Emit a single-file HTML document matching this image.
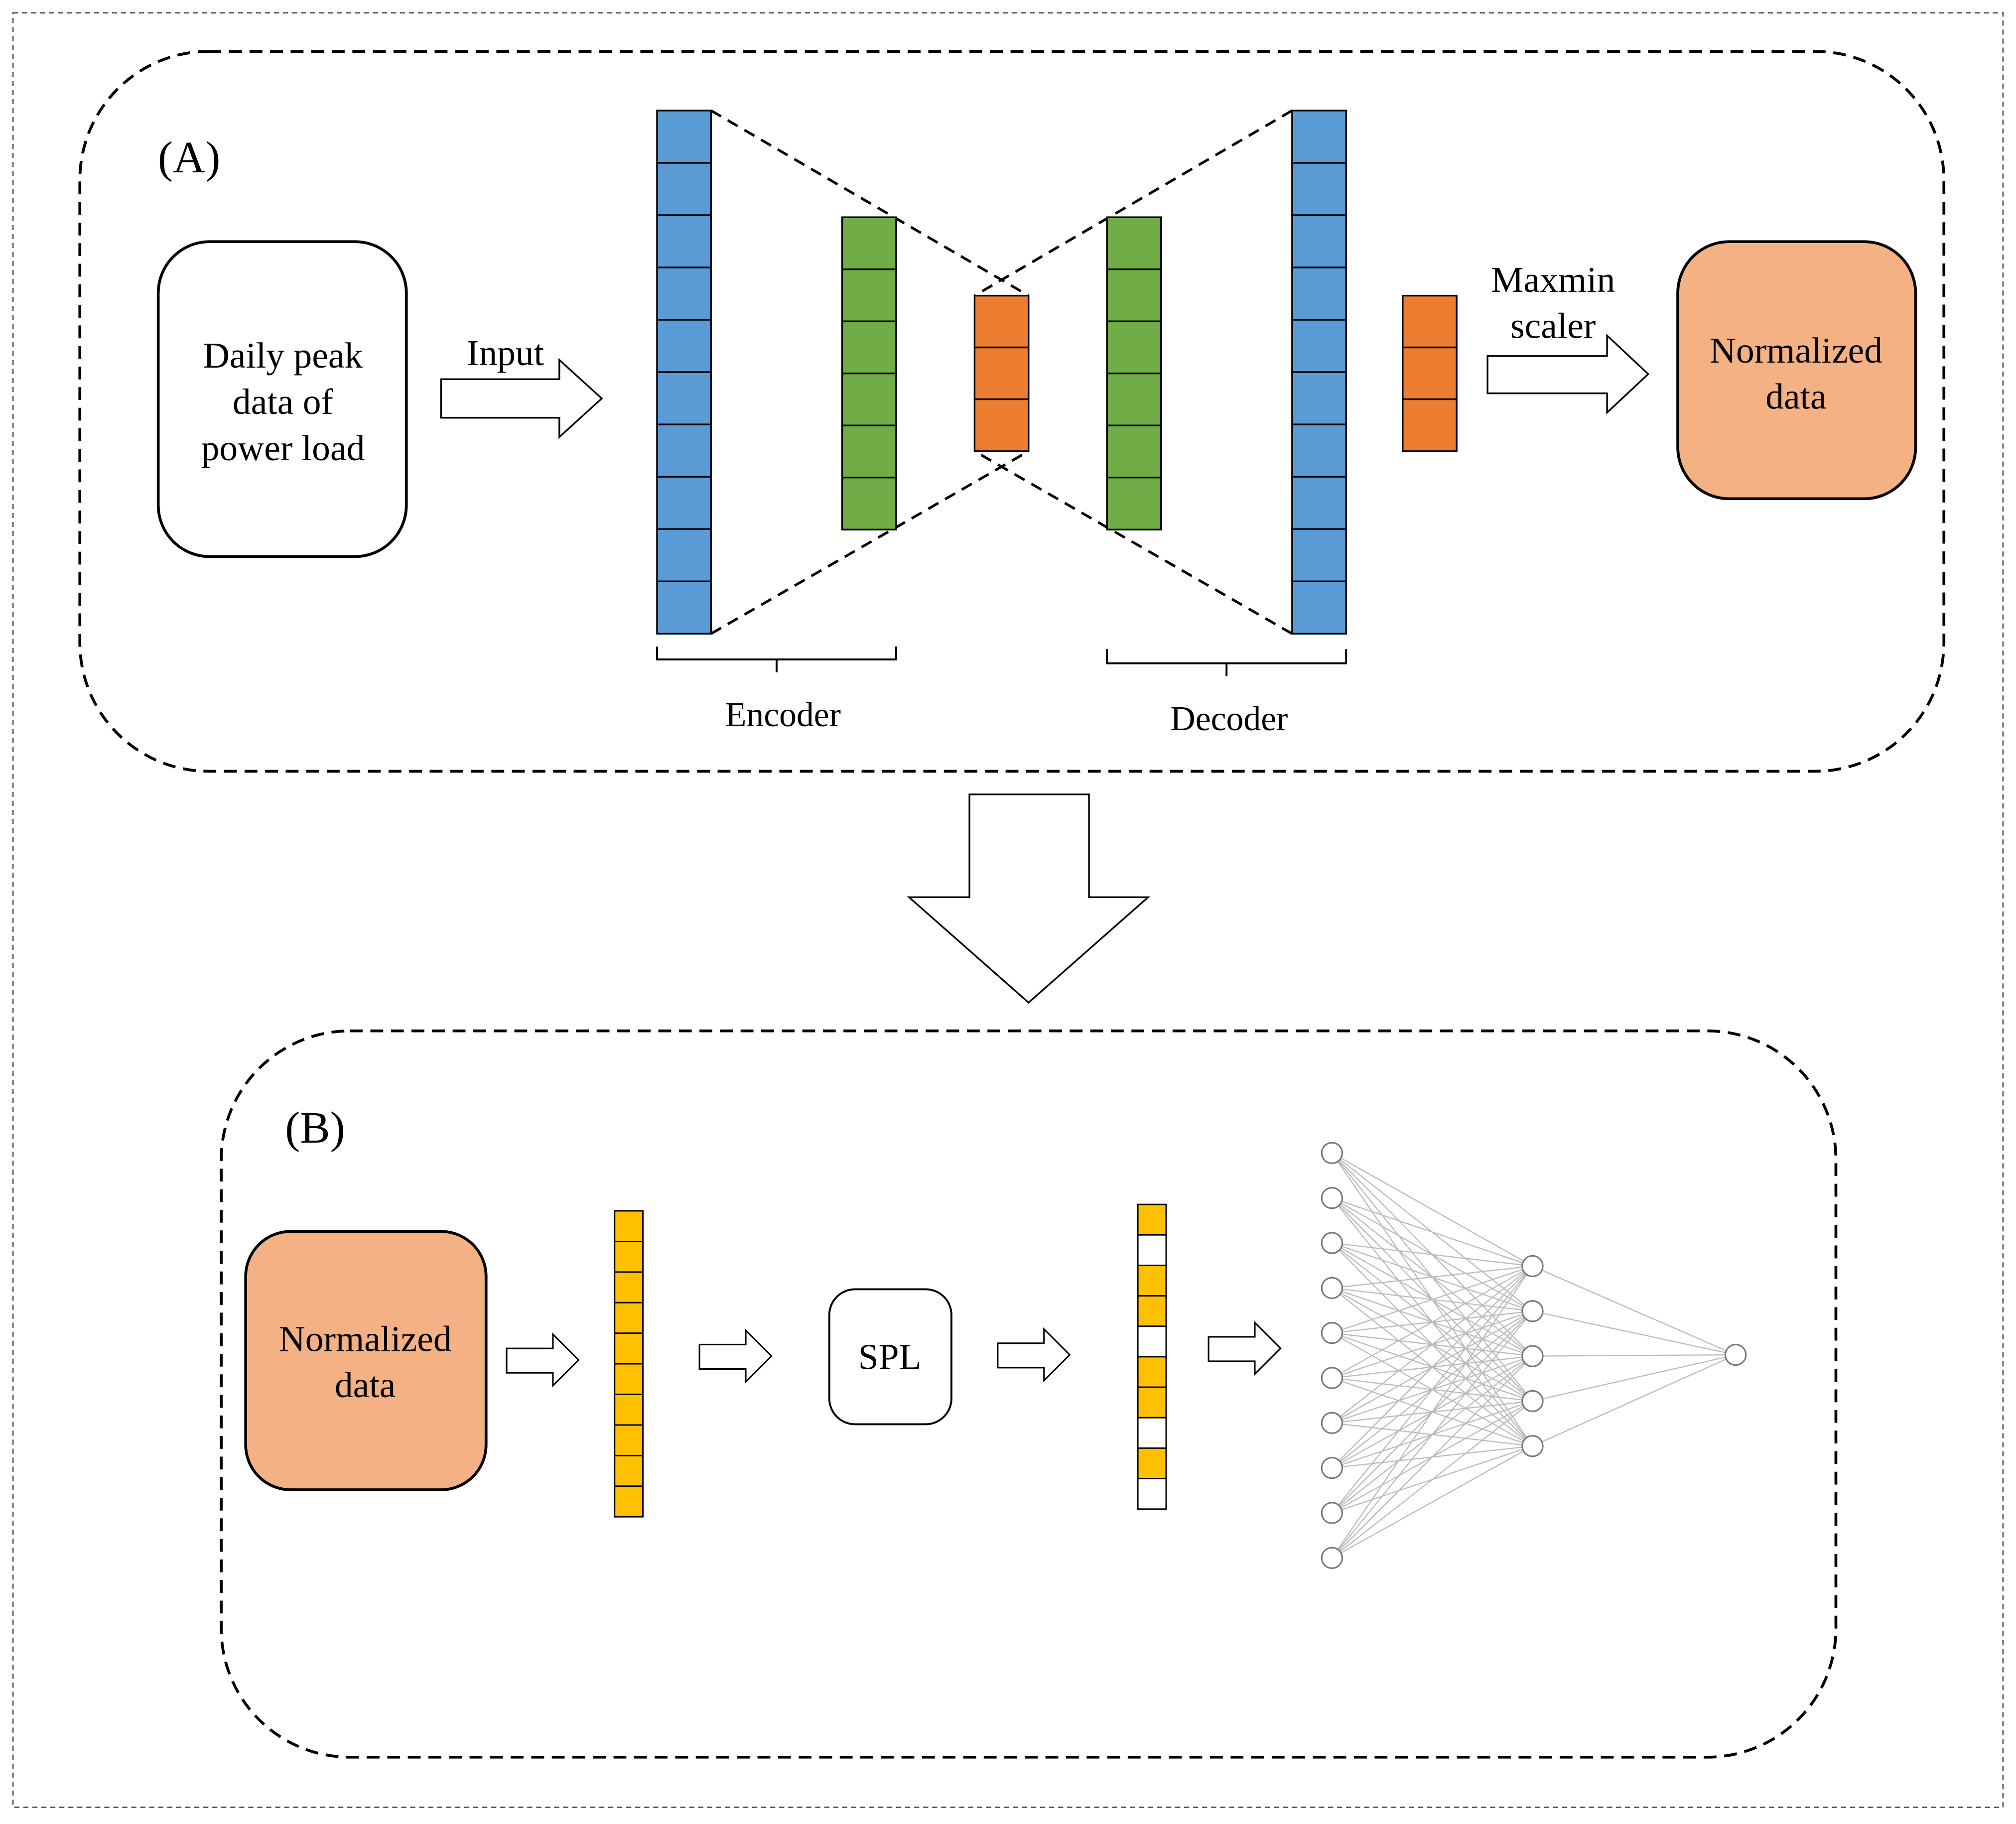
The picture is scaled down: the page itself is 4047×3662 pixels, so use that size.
<!DOCTYPE html>
<html><head><meta charset="utf-8"><style>
html,body{margin:0;padding:0;background:#fff;}
svg{display:block;}
text{font-family:"Liberation Serif",serif;fill:#000;}
</style></head><body>
<svg width="4047" height="3662" viewBox="0 0 1568 1419" xmlns="http://www.w3.org/2000/svg">
<rect x="0" y="0" width="1568" height="1419" fill="#fff"/>
<rect x="10" y="10" width="1548" height="1396" fill="none" stroke="#444" stroke-width="1" stroke-dasharray="4,3"/>
<rect x="62" y="40" width="1450" height="560" rx="100" fill="none" stroke="#000" stroke-width="2.2" stroke-dasharray="10,6"/>
<rect x="172" y="802" width="1256" height="565" rx="100" fill="none" stroke="#000" stroke-width="2.2" stroke-dasharray="10,6"/>

<rect x="123" y="188" width="193" height="245" rx="40" fill="#fff" stroke="#000" stroke-width="2.2"/>
<path d="M343 295 H435 V280 L468 310 L435 340 V325 H343 Z" fill="#fff" stroke="#000" stroke-width="1.3"/>
<path d="M1157 277 H1250 V261 L1282 291 L1250 321 V306 H1157 Z" fill="#fff" stroke="#000" stroke-width="1.3"/>

<g stroke="#000" stroke-width="2" stroke-dasharray="9,6" fill="none">
<line x1="553" y1="86" x2="800" y2="230"/><line x1="1005" y1="86" x2="758" y2="230"/>
<line x1="553" y1="493" x2="800" y2="351"/><line x1="1005" y1="493" x2="758" y2="351"/>
</g>

<g stroke="#000" stroke-width="1.3">
<g fill="#5b9bd5">
<rect x="511" y="86" width="42" height="40.7"/><rect x="511" y="126.7" width="42" height="40.7"/><rect x="511" y="167.4" width="42" height="40.7"/><rect x="511" y="208.1" width="42" height="40.7"/><rect x="511" y="248.8" width="42" height="40.7"/><rect x="511" y="289.5" width="42" height="40.7"/><rect x="511" y="330.2" width="42" height="40.7"/><rect x="511" y="370.9" width="42" height="40.7"/><rect x="511" y="411.6" width="42" height="40.7"/><rect x="511" y="452.3" width="42" height="40.7"/>
<rect x="1005" y="86" width="42" height="40.7"/><rect x="1005" y="126.7" width="42" height="40.7"/><rect x="1005" y="167.4" width="42" height="40.7"/><rect x="1005" y="208.1" width="42" height="40.7"/><rect x="1005" y="248.8" width="42" height="40.7"/><rect x="1005" y="289.5" width="42" height="40.7"/><rect x="1005" y="330.2" width="42" height="40.7"/><rect x="1005" y="370.9" width="42" height="40.7"/><rect x="1005" y="411.6" width="42" height="40.7"/><rect x="1005" y="452.3" width="42" height="40.7"/>
</g>
<g fill="#70ad47">
<rect x="655" y="169" width="42" height="40.5"/><rect x="655" y="209.5" width="42" height="40.5"/><rect x="655" y="250" width="42" height="40.5"/><rect x="655" y="290.5" width="42" height="40.5"/><rect x="655" y="331" width="42" height="40.5"/><rect x="655" y="371.5" width="42" height="40.5"/>
<rect x="861" y="169" width="42" height="40.5"/><rect x="861" y="209.5" width="42" height="40.5"/><rect x="861" y="250" width="42" height="40.5"/><rect x="861" y="290.5" width="42" height="40.5"/><rect x="861" y="331" width="42" height="40.5"/><rect x="861" y="371.5" width="42" height="40.5"/>
</g>
<g fill="#ed7d31">
<rect x="758" y="230" width="42" height="40.3"/><rect x="758" y="270.3" width="42" height="40.3"/><rect x="758" y="310.6" width="42" height="40.4"/>
<rect x="1091" y="230" width="42" height="40.3"/><rect x="1091" y="270.3" width="42" height="40.3"/><rect x="1091" y="310.6" width="42" height="40.4"/>
</g>
</g>

<g fill="none" stroke="#000" stroke-width="1.5">
<path d="M511 503 V513 H604 V523 M604 513 H697 V503"/>
<path d="M861 505 V516 H954 V526 M954 516 H1047 V505"/>
</g>

<rect x="1305" y="188" width="185" height="200" rx="40" fill="#f4b183" stroke="#000" stroke-width="2.2"/>

<path d="M754 618 H847 V698 H893 L800 780 L707 698 H754 Z" fill="#fff" stroke="#000" stroke-width="1.3"/>

<rect x="191" y="958" width="187" height="201" rx="35" fill="#f4b183" stroke="#000" stroke-width="2.2"/>
<rect x="645" y="1003" width="95" height="105" rx="20" fill="#fff" stroke="#000" stroke-width="1.5"/>
<g fill="#fff" stroke="#000" stroke-width="1.2">
<path d="M394 1049 H430 V1038 L450 1058 L430 1078 V1068 H394 Z"/>
<path d="M544 1046 H580 V1035 L600 1055 L580 1075 V1065 H544 Z"/>
<path d="M776 1045 H812 V1034 L832 1054 L812 1074 V1064 H776 Z"/>
<path d="M940 1040 H976 V1029 L996 1049 L976 1069 V1059 H940 Z"/>
</g>

<g stroke="#000" stroke-width="1.1">
<g fill="#ffc000">
<rect x="478" y="942" width="22" height="23.8"/><rect x="478" y="965.8" width="22" height="23.8"/><rect x="478" y="989.6" width="22" height="23.8"/><rect x="478" y="1013.4" width="22" height="23.8"/><rect x="478" y="1037.2" width="22" height="23.8"/><rect x="478" y="1061" width="22" height="23.8"/><rect x="478" y="1084.8" width="22" height="23.8"/><rect x="478" y="1108.6" width="22" height="23.8"/><rect x="478" y="1132.4" width="22" height="23.8"/><rect x="478" y="1156.2" width="22" height="23.8"/>
</g>
<rect x="885" y="937" width="22" height="23.7" fill="#ffc000"/>
<rect x="885" y="960.7" width="22" height="23.7" fill="#fff"/>
<rect x="885" y="984.4" width="22" height="23.7" fill="#ffc000"/>
<rect x="885" y="1008.1" width="22" height="23.7" fill="#ffc000"/>
<rect x="885" y="1031.8" width="22" height="23.7" fill="#fff"/>
<rect x="885" y="1055.5" width="22" height="23.7" fill="#ffc000"/>
<rect x="885" y="1079.2" width="22" height="23.7" fill="#ffc000"/>
<rect x="885" y="1102.9" width="22" height="23.7" fill="#fff"/>
<rect x="885" y="1126.6" width="22" height="23.7" fill="#ffc000"/>
<rect x="885" y="1150.3" width="22" height="23.7" fill="#fff"/>
</g>

<g id="nn" stroke="#bbb" stroke-width="0.9"></g>
<script>
(function(){
var ns="http://www.w3.org/2000/svg",g=document.getElementById("nn");
var inY=[],hY=[985,1020,1055,1090,1125],i,j;
for(i=0;i<10;i++)inY.push(897+35*i);
function L(a,b,c,d){var l=document.createElementNS(ns,"line");l.setAttribute("x1",a);l.setAttribute("y1",b);l.setAttribute("x2",c);l.setAttribute("y2",d);g.appendChild(l);}
function C(x,y){var c=document.createElementNS(ns,"circle");c.setAttribute("cx",x);c.setAttribute("cy",y);c.setAttribute("r",8);c.setAttribute("fill","#fff");c.setAttribute("stroke","#777");c.setAttribute("stroke-width","1.2");g.appendChild(c);}
for(i=0;i<10;i++)for(j=0;j<5;j++)L(1036,inY[i],1192,hY[j]);
for(j=0;j<5;j++)L(1192,hY[j],1350,1054);
for(i=0;i<10;i++)C(1036,inY[i]);
for(j=0;j<5;j++)C(1192,hY[j]);
C(1350,1054);
})();
</script>

<text x="147" y="134" font-size="35" text-anchor="middle">(A)</text>
<text x="245" y="889" font-size="35" text-anchor="middle">(B)</text>
<g font-size="28.5" text-anchor="middle">
<text x="220" y="286">Daily peak</text><text x="220" y="322">data of</text><text x="220" y="358">power load</text>
<text x="393" y="284">Input</text>
<text x="1208" y="227">Maxmin</text><text x="1208" y="263">scaler</text>
<text x="1397" y="282">Normalized</text><text x="1397" y="318">data</text>
<text x="284" y="1051">Normalized</text><text x="284" y="1087">data</text>
<text x="692" y="1065">SPL</text>
<text x="609" y="565" font-size="27">Encoder</text>
<text x="956" y="568" font-size="27">Decoder</text>
</g>
</svg>
</body></html>
